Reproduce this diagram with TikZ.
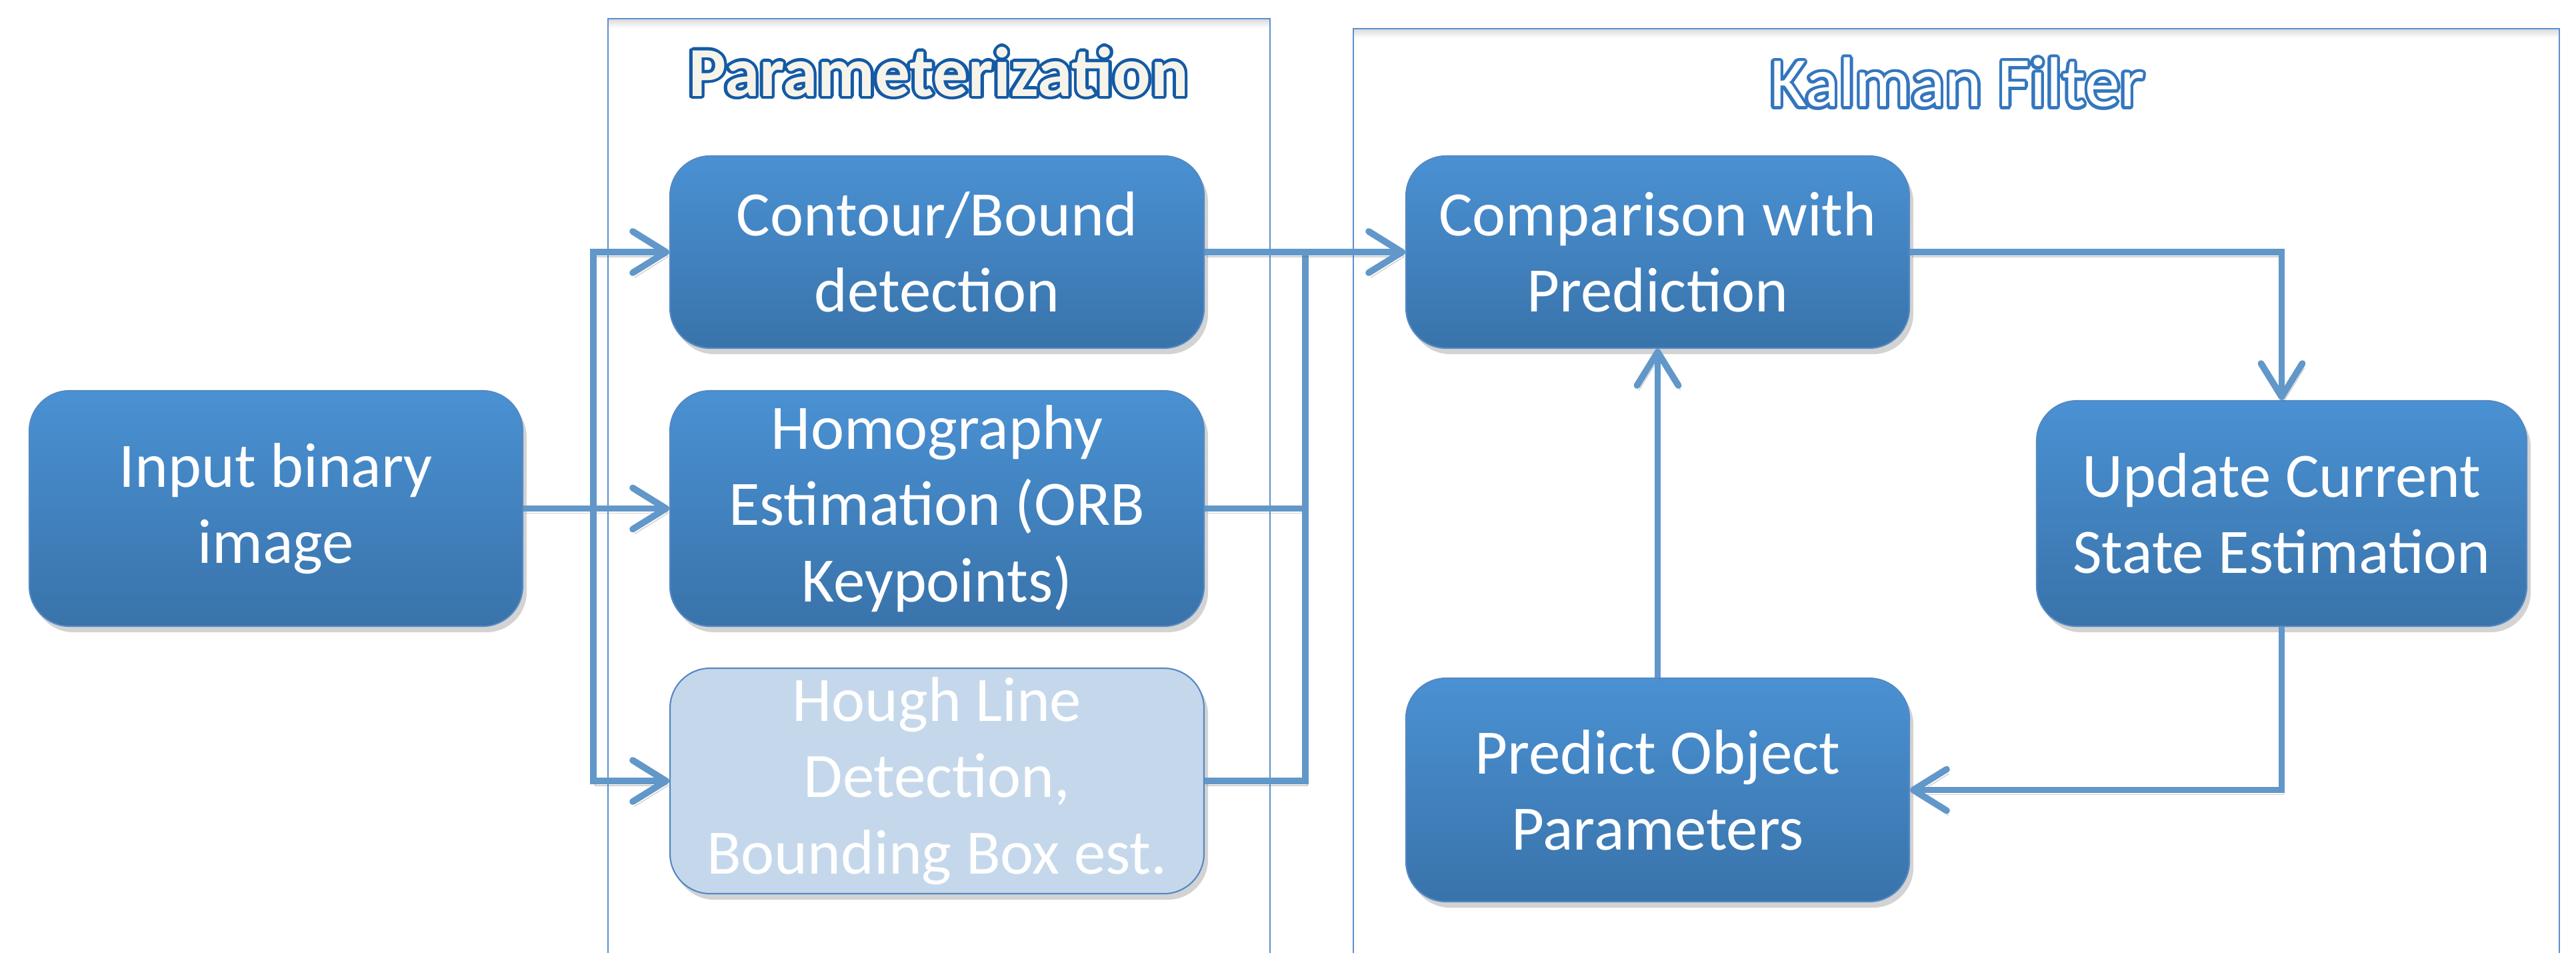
\documentclass[tikz,border=0pt]{standalone}
\usepackage{fontspec}
\setmainfont{Carlito}
\usepackage[copies]{contour}
\usepackage{tikz}
\usetikzlibrary{arrows.meta, positioning, shadows}
\definecolor{boxtop}{RGB}{74, 145, 211}
\definecolor{boxbottom}{RGB}{57, 115, 170}
\definecolor{boxedge}{RGB}{84, 136, 196}
\definecolor{flowblue}{RGB}{98, 151, 201}
\definecolor{frameblue}{RGB}{92, 143, 208}
\definecolor{fadedfill}{RGB}{197, 216, 235}
\definecolor{titleblue}{RGB}{20, 90, 165}
\definecolor{kalmanblue}{RGB}{52, 118, 190}
\definecolor{cream}{RGB}{246, 244, 234}
\contourlength{1.3pt}

\begin{document}
\begin{tikzpicture}[
  stage/.style={draw=boxedge, line width=0.6pt, rounded corners=0.6cm, top color=boxtop, bottom color=boxbottom,
    text=white, align=center, inner sep=0pt, font=\fontsize{27}{32.5}\selectfont,
    drop shadow={shadow xshift=0.6mm, shadow yshift=-0.9mm, opacity=0.35}},
  faded/.style={stage, top color=fadedfill, bottom color=fadedfill},
  panel/.style={draw=frameblue, line width=0.6pt},
  heading/.style={inner sep=0pt, font=\fontsize{30}{36}\selectfont},
  wire/.style={line width=2.8pt, flowblue,
    preaction={draw, black!60, opacity=0.3, transform canvas={shift={(0.3mm,-0.7mm)}}}},
  flow/.style={wire, -{Straight Barb[length=5mm, width=6.2mm, round]}}
]
  \useasboundingbox (0, 0) rectangle (38.64, -14.28);

  % Panels, open at the bottom
  \shade[top color=black!14, bottom color=white] (9.13, -0.29) rectangle (19.04, -0.42);
  \draw[panel] (9.12, -14.3) |- (19.05, -0.28) -- (19.05, -14.3);
  \shade[top color=black!14, bottom color=white] (20.31, -0.44) rectangle (38.38, -0.57);
  \draw[panel] (20.30, -14.3) |- (38.39, -0.43) -- (38.39, -14.3);

  \node[heading] (param-title) at (14.08, -1.10) {\contour{titleblue}{\textcolor{cream}{\bfseries Parameterization}}};
  \node[heading] (kalman-title) at (29.36, -1.26) {\contour{kalmanblue}{\textcolor{white}{Kalman Filter}}};

  % Input
  \node[stage, minimum width=7.40cm, minimum height=3.53cm] (input) at (4.14, -7.625) {Input binary\\image};

  % Parameterization
  \node[stage, minimum width=8.01cm, minimum height=2.88cm] (contour) at (14.055, -3.78) {Contour/Bound\\detection};
  \node[stage, minimum width=8.01cm, minimum height=3.53cm] (homog) at (14.055, -7.625) {Homography\\Estimation (ORB\\Keypoints)};
  \node[faded, minimum width=8.01cm, minimum height=3.38cm] (hough) at (14.055, -11.71) {Hough Line\\Detection,\\Bounding Box est.};

  % Kalman filter
  \node[stage, minimum width=7.55cm, minimum height=2.88cm] (compare) at (24.865, -3.78) {Comparison with\\Prediction};
  \node[stage, minimum width=7.35cm, minimum height=3.38cm] (update) at (34.225, -7.70) {Update Current\\State Estimation};
  \node[stage, minimum width=7.55cm, minimum height=3.35cm] (predict) at (24.865, -11.845) {Predict Object\\Parameters};

  % Fan out from the input
  \coordinate (split) at (8.90, -7.625);
  \draw[flow] (input) -- (homog);
  \draw[flow] (split) |- (contour);
  \draw[flow] (split) |- (hough);

  % Collect into the comparison
  \coordinate (merge) at (19.58, -3.78);
  \draw[wire] (homog) -| (merge);
  \draw[wire] (hough) -| (merge);
  \draw[flow] (contour) -- (compare);

  % Filter loop
  \draw[flow] (compare) -| (update);
  \draw[flow] (update) |- (predict);
  \draw[flow] (predict) -- (compare);
\end{tikzpicture}
\end{document}
